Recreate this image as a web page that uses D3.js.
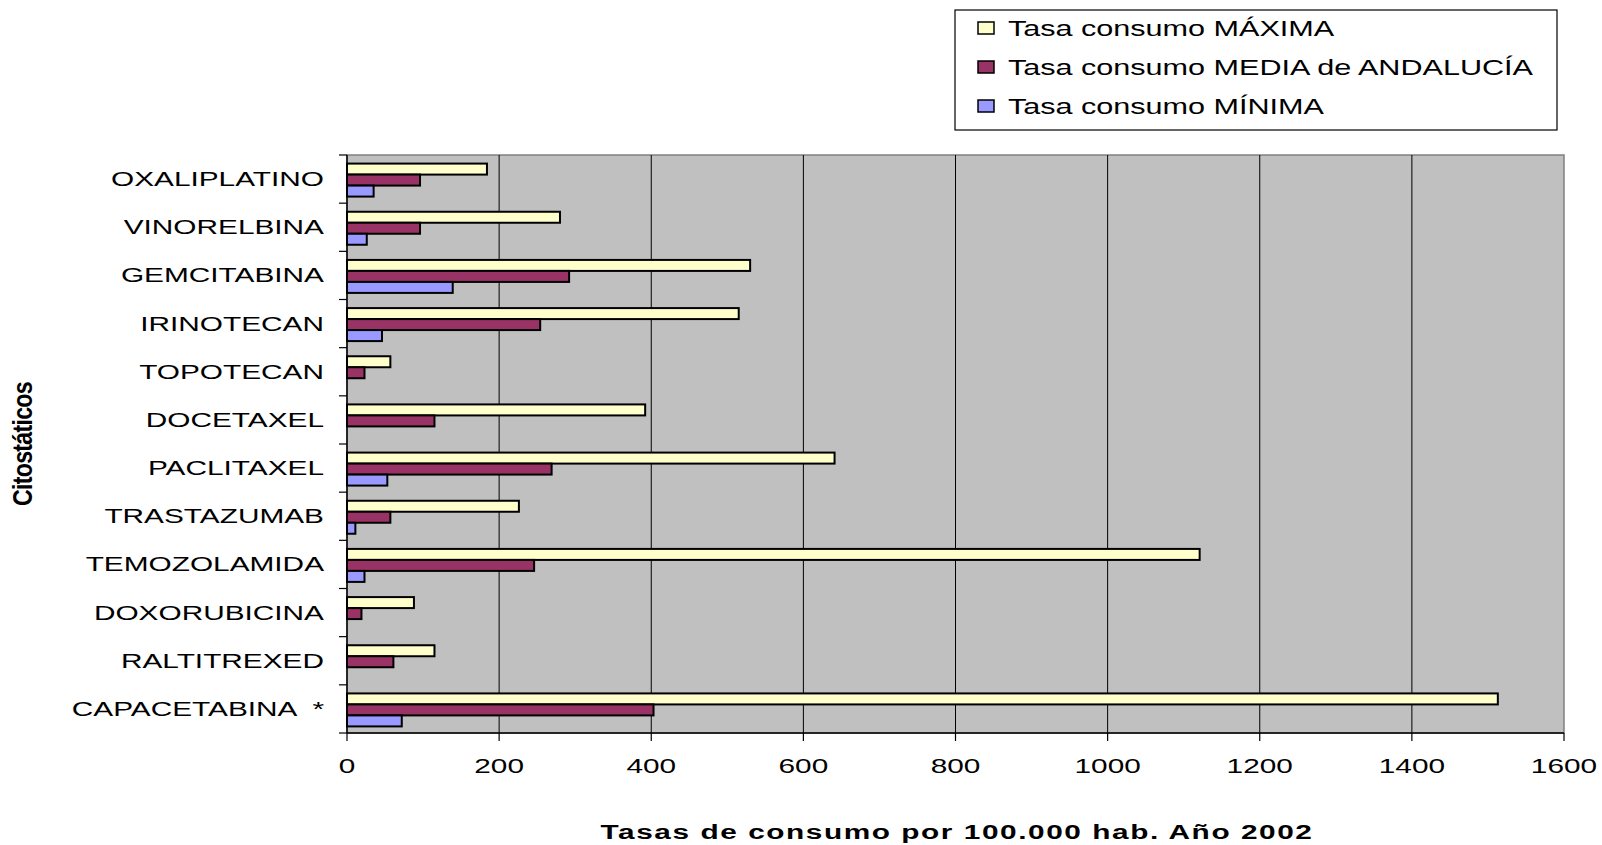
<!DOCTYPE html>
<html><head><meta charset="utf-8">
<script src="https://cdn.jsdelivr.net/npm/d3@7"></script>
<style>
body{margin:0;background:#fff}
svg{display:block}
text{font-family:"Liberation Sans",Arial,sans-serif;fill:#000}
</style>
</head><body>
<svg id="c" width="1602" height="845"></svg>
<script>
const categories = ["OXALIPLATINO","VINORELBINA","GEMCITABINA","IRINOTECAN","TOPOTECAN","DOCETAXEL","PACLITAXEL","TRASTAZUMAB","TEMOZOLAMIDA","DOXORUBICINA","RALTITREXED","CAPACETABINA  *"];
const tasaMaxima = [184, 280, 530, 515, 57, 392, 641, 226, 1121, 88, 115, 1513];
const tasaMedia  = [96, 96, 292, 254, 23, 115, 269, 57, 246, 19, 61, 403];
const tasaMinima = [35, 26, 139, 46, null, null, 53, 11, 23, null, null, 72];
const seriesNames = ["Tasa consumo MÁXIMA","Tasa consumo MEDIA de ANDALUCÍA","Tasa consumo MÍNIMA"];
const seriesColors = ["#FFFFCC","#993366","#9999FF"];
const xTicks = [0,200,400,600,800,1000,1200,1400,1600];
const xTitle = "Tasas de consumo por 100.000 hab. Año 2002";
const yTitle = "Citostáticos";

const series = [tasaMaxima, tasaMedia, tasaMinima];
const svg = d3.select("#c");
const L = 347, R = 1564, T = 155, B = 733;
const SX = 1.42;

const x = d3.scaleLinear().domain([0,1600]).range([L,R]);
const y = d3.scaleBand().domain(categories).range([T,B]).padding(0);
const ys = d3.scaleBand().domain([0,1,2]).range([0,y.bandwidth()]).paddingInner(0).paddingOuter(0.69);

// plot background
svg.append("rect").attr("x",L).attr("y",T).attr("width",R-L).attr("height",B-T)
  .attr("fill","#C0C0C0").attr("stroke","#808080").attr("stroke-width",1.5);

// gridlines
svg.append("g").selectAll("line").data(xTicks.filter(v=>v>0&&v<1600)).join("line")
  .attr("x1",d=>x(d)).attr("x2",d=>x(d)).attr("y1",T).attr("y2",B)
  .attr("stroke","#000").attr("stroke-width",1);

// bars
const rows = [];
categories.forEach((c,i)=>series.forEach((s,j)=>{ if(s[i]!=null) rows.push({c,j,v:s[i]}); }));
svg.append("g").selectAll("rect").data(rows).join("rect")
  .attr("x",x(0)).attr("y",d=>y(d.c)+ys(d.j)+1)
  .attr("width",d=>x(d.v)-x(0)).attr("height",ys.bandwidth())
  .attr("fill",d=>seriesColors[d.j]).attr("stroke","#000").attr("stroke-width",2);

// axes lines
svg.append("line").attr("x1",L).attr("x2",L).attr("y1",T).attr("y2",B).attr("stroke","#000").attr("stroke-width",1.5);
svg.append("line").attr("x1",L).attr("x2",R).attr("y1",B).attr("y2",B).attr("stroke","#000").attr("stroke-width",1.5);
// left ticks at boundaries
const bounds = categories.map(c=>y(c)).concat([B]);
svg.append("g").selectAll("line").data(bounds).join("line")
  .attr("x1",L-8).attr("x2",L).attr("y1",d=>d).attr("y2",d=>d).attr("stroke","#000").attr("stroke-width",1.2);
// bottom ticks
svg.append("g").selectAll("line").data(xTicks).join("line")
  .attr("x1",d=>x(d)).attr("x2",d=>x(d)).attr("y1",B).attr("y2",B+8).attr("stroke","#000").attr("stroke-width",1.2);

// tick labels
svg.append("g").selectAll("text").data(xTicks).join("text")
  .attr("transform",d=>`translate(${x(d)},773) scale(${SX},1)`)
  .attr("text-anchor","middle").attr("font-size",21).text(d=>d);

// category labels
svg.append("g").selectAll("text").data(categories).join("text")
  .attr("transform",c=>`translate(324,${y(c)+y.bandwidth()/2+7}) scale(1.42,1)`)
  .attr("text-anchor","end").attr("font-size",21).style("white-space","pre").text(c=>c);

// x title
svg.append("text").attr("transform",`translate(957,839) scale(1.42,1)`)
  .attr("text-anchor","middle").attr("font-size",21).attr("font-weight","bold")
  .attr("letter-spacing",1.1).text(xTitle);

// y title
svg.append("text").attr("transform",`translate(32,444) rotate(-90) scale(1.22,1.5)`)
  .attr("text-anchor","middle").attr("font-size",19).attr("font-weight","bold")
  .attr("letter-spacing",-0.6).text(yTitle);

// legend
const lg = svg.append("g");
lg.append("rect").attr("x",955).attr("y",10).attr("width",602).attr("height",120)
  .attr("fill","#fff").attr("stroke","#000").attr("stroke-width",1.2);
const rowY = [28,67,106];
seriesNames.forEach((n,i)=>{
  lg.append("rect").attr("x",978).attr("y",rowY[i]-6).attr("width",16).attr("height",12)
    .attr("fill",seriesColors[i]).attr("stroke","#000").attr("stroke-width",1.5);
  lg.append("text").attr("transform",`translate(1008,${rowY[i]+8}) scale(1.39,1)`)
    .attr("font-size",22).text(n);
});
</script>
</body></html>
